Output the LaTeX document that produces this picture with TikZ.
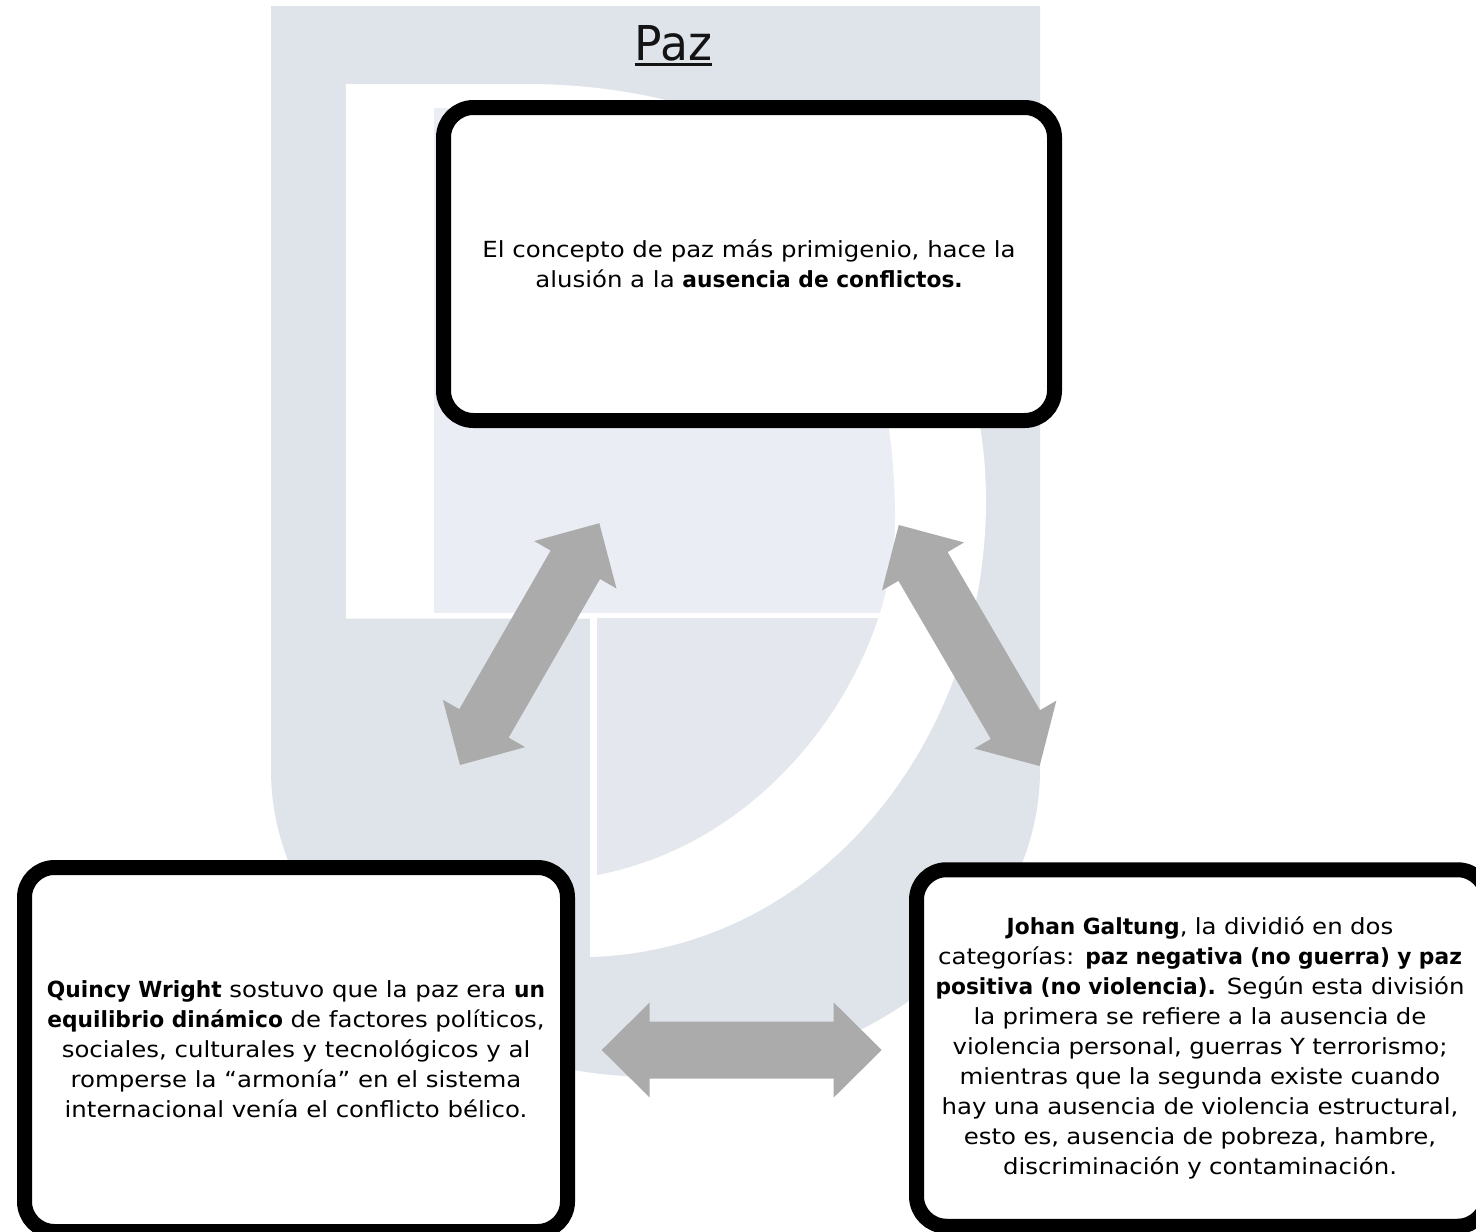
\documentclass[tikz,border=0pt]{standalone}
\usepackage{fontspec}
\setmainfont{DejaVu Sans}[FakeStretch=1.1]
\newfontfamily\boldface{DejaVu Sans Bold}[FakeStretch=0.98]
\newfontfamily\titlefont{DejaVu Sans}[FakeStretch=0.95]
\newcommand{\bword}[1]{{\boldface #1}}
\usetikzlibrary{calc}
\definecolor{wmgray}{HTML}{DFE3EA}
\definecolor{wmlight}{HTML}{EAEDF4}
\definecolor{wmmid}{HTML}{E4E7ED}
\definecolor{arrowgray}{HTML}{ABABAB}
\tikzset{
  box/.style={draw=black, line width=15pt, fill=white, rounded corners=30pt,
    align=center, inner sep=0pt, font=\fontsize{22.2}{30}\selectfont},
  arrowfill/.style={fill=arrowgray},
}
\newcommand{\blockdbl}[3]{%
  \coordinate (#3a) at ($(#1)!48pt!(#2)$);
  \coordinate (#3b) at ($(#2)!48pt!(#1)$);
  \fill[arrowfill] (#1) -- ($(#3a)!47.5pt!90:(#2)$) -- ($(#3a)!28.5pt!90:(#2)$)
    -- ($(#3b)!28.5pt!-90:(#1)$) -- ($(#3b)!47.5pt!-90:(#1)$) -- (#2)
    -- ($(#3b)!47.5pt!90:(#1)$) -- ($(#3b)!28.5pt!90:(#1)$)
    -- ($(#3a)!28.5pt!-90:(#2)$) -- ($(#3a)!47.5pt!-90:(#2)$) -- cycle;}
\begin{document}
\begin{tikzpicture}[x=1pt,y=-1pt]
\useasboundingbox (0,0) rectangle (1476,1232);
% watermark
\fill[wmgray] (271,6) -- (1040,6) -- (1040,770)
  .. controls (1040,939.6) and (867.9,1077) .. (655.5,1077)
  .. controls (443.1,1077) and (271,939.6) .. (271,770) -- cycle;
\fill[white] (346,84) -- (525,84) .. controls (800,84) and (985,250) .. (986,500)
  .. controls (986,740) and (820,950) .. (590,957) -- (590,618.5) -- (346,618.5) -- cycle;
\begin{scope}
  \clip (0,0) rectangle (1476,612.5);
  \fill[wmlight] (434,108) -- (560,108) .. controls (760,108) and (895,260) .. (895,520)
    .. controls (895,660) and (780,840) .. (597,875) -- (434,875) -- cycle;
\end{scope}
\begin{scope}
  \clip (597,618.5) rectangle (1476,1232);
  \fill[wmmid] (434,108) -- (560,108) .. controls (760,108) and (895,260) .. (895,520)
    .. controls (895,660) and (780,840) .. (597,875) -- (434,875) -- cycle;
\end{scope}
% title
\node[inner sep=0pt, anchor=base, text=black!92, font=\titlefont\fontsize{48}{50}\selectfont] (title) at (673.5,60) {Paz};
\draw[line width=2.5pt, black!92] ([yshift=-4.5pt]title.base west) -- ([yshift=-4.5pt]title.base east);
% boxes
\node[box, minimum width=611pt, minimum height=313pt] (topbox) at (749,264)
  {El concepto de paz más primigenio, hace la\\alusión a la \bword{ausencia de conflictos.}};
\node[box, minimum width=543pt, minimum height=364pt] (leftbox) at (296,1049.5)
  {\bword{Quincy Wright} sostuvo que la paz era \bword{un}\\
   \bword{equilibrio dinámico} de factores políticos,\\
   sociales, culturales y tecnológicos y al\\
   romperse la “armonía” en el sistema\\
   internacional venía el conflicto bélico.};
\node[box, minimum width=571pt, minimum height=356.5pt, text width=560pt] (rightbox) at (1202,1048)
  {\hspace*{-4pt}\parbox{560pt}{\centering\fontsize{22.2}{30}\selectfont
   \bword{Johan Galtung}, la dividió en dos\\
   categorías: \bword{paz negativa (no guerra) y paz}\\
   \bword{positiva (no violencia).} Según esta división\\
   la primera se refiere a la ausencia de\\
   violencia personal, guerras Y terrorismo;\\
   mientras que la segunda existe cuando\\
   hay una ausencia de violencia estructural,\\
   esto es, ausencia de pobreza, hambre,\\
   discriminación y contaminación.}};
% arrows
\coordinate (la1) at (460,765);
\coordinate (la2) at (599.3,523.2);
\coordinate (ra1) at (898.8,525);
\coordinate (ra2) at (1039.6,766);
\coordinate (ha1) at (601.7,1050);
\coordinate (ha2) at (881.7,1050);
\blockdbl{la1}{la2}{lx}
\blockdbl{ra1}{ra2}{rx}
\blockdbl{ha1}{ha2}{hx}
\end{tikzpicture}
\end{document}
